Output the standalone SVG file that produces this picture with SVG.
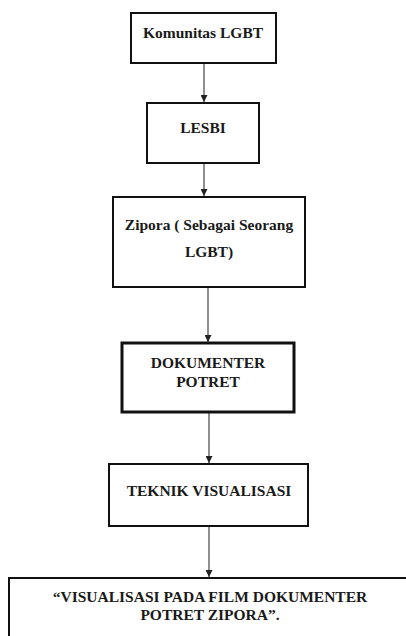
<svg xmlns="http://www.w3.org/2000/svg" width="406" height="636" viewBox="0 0 406 636">
<defs>
<marker id="ah" viewBox="0 0 10 10" refX="10" refY="5" markerWidth="7" markerHeight="7" markerUnits="userSpaceOnUse" orient="auto">
<path d="M0,0 L10,5 L0,10 z" fill="#222"/>
</marker>
<style>
.box{fill:#fff;stroke:#111;stroke-width:2}
.thick{stroke-width:3}
.t{font-weight:bold;font-size:15.5px;fill:#1a1a1a;text-anchor:middle}
.c{stroke:#444;stroke-width:1.2;fill:none;marker-end:url(#ah)}
</style>
</defs>
<rect width="406" height="636" fill="#fff"/>
<g id="connectors">
<line class="c" x1="204" y1="63" x2="204" y2="102"/>
<line class="c" x1="204" y1="163" x2="204" y2="196"/>
<line class="c" x1="208" y1="287" x2="208" y2="342"/>
<line class="c" x1="209" y1="412" x2="209" y2="463"/>
<line class="c" x1="209" y1="526" x2="209" y2="577"/>
</g>
<g font-family="'Liberation Serif', 'Times New Roman', 'DejaVu Serif', serif">
<g id="n1">
<rect class="box" x="131" y="13" width="145" height="50"/>
<text class="t" x="203" y="38">Komunitas LGBT</text>
</g>
<g id="n2">
<rect class="box" x="147" y="103" width="112" height="60"/>
<text class="t" x="203" y="133">LESBI</text>
</g>
<g id="n3">
<rect class="box" x="113" y="197" width="192" height="90"/>
<text class="t" x="209" y="230">Zipora ( Sebagai Seorang</text>
<text class="t" x="209" y="257">LGBT)</text>
</g>
<g id="n4">
<rect class="box thick" x="122" y="343" width="172" height="69"/>
<text class="t" x="208" y="368">DOKUMENTER</text>
<text class="t" x="208" y="387">POTRET</text>
</g>
<g id="n5">
<rect class="box" x="109" y="464" width="199" height="62"/>
<text class="t" x="209" y="496">TEKNIK VISUALISASI</text>
</g>
<g id="n6">
<rect class="box" x="9" y="578" width="402" height="70"/>
<text class="t" x="210" y="602">“VISUALISASI PADA FILM DOKUMENTER</text>
<text class="t" x="210" y="620">POTRET ZIPORA”.</text>
</g>
</g>
</svg>
